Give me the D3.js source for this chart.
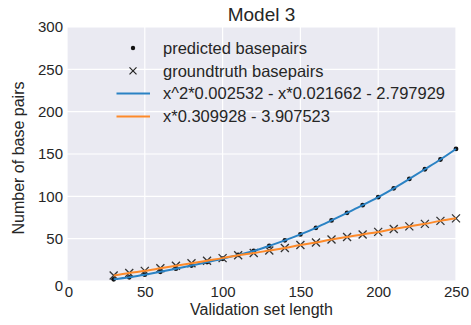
<!DOCTYPE html>
<html>
<head>
<meta charset="utf-8">
<script src="https://cdn.jsdelivr.net/npm/d3@7"></script>
<style>
    body { margin: 0; background: #ffffff; }
    text { font-family: "Liberation Sans", Arial, sans-serif; fill: #262626; }
</style>
</head>
<body>
<div id="chart"></div>
<script>
"use strict";

// validation set lengths
var lengths = [30, 40, 50, 60, 70, 80, 90, 100, 110, 120, 130, 140, 150,
    160, 170, 180, 190, 200, 210, 220, 230, 240, 250];
// predicted basepairs (dots, blue curve)
var predicted = [2.0, 4.3, 7.5, 10.9, 14.5, 18.3, 22.3, 26.3, 30.8, 35.5, 41.5, 48.0, 55.0,
    62.8, 71.5, 80.5, 89.5, 99.0, 109.4, 120.6, 132.0, 143.5, 156.0];
// groundtruth basepairs (crosses, orange line)
var groundtruth = [6.5, 9.5, 12.0, 15.0, 18.0, 21.0, 24.0, 27.0, 30.5, 33.0, 36.0, 39.0, 42.5,
    45.5, 49.0, 52.0, 55.0, 58.0, 61.5, 64.5, 67.5, 71.0, 74.0];

var xTicks = [0, 50, 100, 150, 200, 250];
var yTicks = [0, 50, 100, 150, 200, 250, 300];
var legendLabels = ["predicted basepairs", "groundtruth basepairs",
    "x^2*0.002532 - x*0.021662 - 2.797929", "x*0.309928 - 3.907523"];

var width = 471;
var height = 325;
var margin = { top: 27, right: 15, bottom: 44, left: 67 };
var innerW = width - margin.left - margin.right;
var innerH = height - margin.top - margin.bottom;

var blue = "#2a82c4";
var orange = "#fd8a2a";

var svg = d3.select("#chart")
    .append("svg")
    .attr("width", width)
    .attr("height", height);

var x = d3.scaleLinear().domain([0, 250]).range([0, innerW]);
var y = d3.scaleLinear().domain([0, 300]).range([innerH, 0]);

var g = svg.append("g")
    .attr("transform", "translate(" + margin.left + "," + margin.top + ")");

// seaborn darkgrid background
g.append("rect")
    .attr("width", innerW)
    .attr("height", innerH)
    .attr("fill", "#eaeaf2");

g.append("g")
    .selectAll("line")
    .data(xTicks)
    .enter()
    .append("line")
    .attr("x1", function(d) { return x(d); })
    .attr("x2", function(d) { return x(d); })
    .attr("y1", 0)
    .attr("y2", innerH)
    .attr("stroke", "#ffffff")
    .attr("stroke-width", 1.2);

g.append("g")
    .selectAll("line")
    .data(yTicks)
    .enter()
    .append("line")
    .attr("x1", 0)
    .attr("x2", innerW)
    .attr("y1", function(d) { return y(d); })
    .attr("y2", function(d) { return y(d); })
    .attr("stroke", "#ffffff")
    .attr("stroke-width", 1.2);

// axes (no domain lines, no tick marks)
var xAxis = g.append("g")
    .attr("transform", "translate(0," + innerH + ")")
    .call(d3.axisBottom(x).tickValues(xTicks).tickSize(0).tickPadding(5));
var yAxis = g.append("g")
    .call(d3.axisLeft(y).tickValues(yTicks).tickSize(0).tickPadding(4));

[xAxis, yAxis].forEach(function(ax) {
    ax.select(".domain").remove();
    ax.selectAll("text")
        .attr("font-size", 15)
        .attr("font-family", "Liberation Sans, Arial, sans-serif")
        .attr("fill", "#262626");
});
// corner zeros sit a bit off, as in the original
yAxis.selectAll(".tick text").filter(function(d) { return d === 0; })
    .attr("dy", "0.6em");
xAxis.selectAll(".tick text").filter(function(d) { return d === 0; })
    .attr("dx", "0.1em");

var points = lengths.map(function(d, i) {
    return { x: d, p: predicted[i], t: groundtruth[i] };
});

// markers first, lines drawn on top
g.append("g")
    .selectAll("circle")
    .data(points)
    .enter()
    .append("circle")
    .attr("cx", function(d) { return x(d.x); })
    .attr("cy", function(d) { return y(d.p); })
    .attr("r", 2.4)
    .attr("fill", "#111111");

var cross = 4;
g.append("g")
    .attr("stroke", "#333333")
    .attr("stroke-width", 1.3)
    .selectAll("path")
    .data(points)
    .enter()
    .append("path")
    .attr("d", function(d) {
        var cx = x(d.x), cy = y(d.t);
        return "M" + (cx - cross) + "," + (cy - cross) + "L" + (cx + cross) + "," + (cy + cross) +
            "M" + (cx - cross) + "," + (cy + cross) + "L" + (cx + cross) + "," + (cy - cross);
    });

var bluePath = d3.line()
    .x(function(d) { return x(d.x); })
    .y(function(d) { return y(d.p); })
    .curve(d3.curveMonotoneX);
var orangePath = d3.line()
    .x(function(d) { return x(d.x); })
    .y(function(d) { return y(d.t); })
    .curve(d3.curveMonotoneX);

g.append("path")
    .datum(points)
    .attr("d", bluePath)
    .attr("fill", "none")
    .attr("stroke", blue)
    .attr("stroke-width", 2);

g.append("path")
    .datum(points)
    .attr("d", orangePath)
    .attr("fill", "none")
    .attr("stroke", orange)
    .attr("stroke-width", 2);

// legend
var legend = svg.append("g")
    .attr("transform", "translate(133,48)");
var rowH = 22.8;

legend.append("circle")
    .attr("cx", 0)
    .attr("cy", 0)
    .attr("r", 2.2)
    .attr("fill", "#111111");
legend.append("path")
    .attr("d", "M-3.5," + (rowH - 3.5) + "L3.5," + (rowH + 3.5) +
        "M-3.5," + (rowH + 3.5) + "L3.5," + (rowH - 3.5))
    .attr("stroke", "#222222")
    .attr("stroke-width", 1.2);
legend.append("line")
    .attr("x1", -16.5).attr("x2", 17)
    .attr("y1", rowH * 2).attr("y2", rowH * 2)
    .attr("stroke", blue)
    .attr("stroke-width", 2);
legend.append("line")
    .attr("x1", -16.5).attr("x2", 17)
    .attr("y1", rowH * 3).attr("y2", rowH * 3)
    .attr("stroke", orange)
    .attr("stroke-width", 2);

legend.selectAll("text.lbl")
    .data(legendLabels)
    .enter()
    .append("text")
    .attr("class", "lbl")
    .attr("x", 30)
    .attr("y", function(d, i) { return i * rowH; })
    .attr("dy", "0.35em")
    .attr("font-size", 16.5)
    .text(function(d) { return d; });

// titles
svg.append("text")
    .attr("x", margin.left + innerW / 2)
    .attr("y", 21)
    .attr("text-anchor", "middle")
    .attr("font-size", 19)
    .text("Model 3");

svg.append("text")
    .attr("x", margin.left + innerW / 2)
    .attr("y", 315)
    .attr("text-anchor", "middle")
    .attr("font-size", 16)
    .text("Validation set length");

svg.append("text")
    .attr("transform", "translate(24," + (margin.top + innerH / 2 + 4) + ") rotate(-90)")
    .attr("text-anchor", "middle")
    .attr("font-size", 16)
    .text("Number of base pairs");
</script>
</body>
</html>
